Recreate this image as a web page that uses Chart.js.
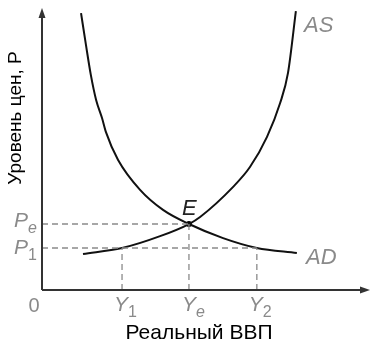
<!DOCTYPE html>
<html>
<head>
<meta charset="utf-8">
<script src="https://cdn.jsdelivr.net/npm/chart.js@4"></script>
<style>
  html, body { margin: 0; padding: 0; background: #fff; }
  #wrap { width: 378px; height: 345px; }
</style>
</head>
<body>
<div id="wrap"><canvas id="chart" width="378" height="345"></canvas></div>
<script>
const adX = [1.19, 1.34, 1.49, 1.65, 1.83, 1.95, 2.32, 2.99, 3.69, 4.48, 5.52, 6.55, 7.77];
const adY = [9.82, 8.69, 7.62, 6.74, 6.10, 5.60, 4.61, 3.55, 2.84, 2.34, 1.84, 1.49, 1.31];
const asX = [1.25, 2.44, 3.60, 4.48, 4.82, 5.82, 6.34, 6.86, 7.26, 7.50, 7.74];
const asY = [1.28, 1.49, 1.91, 2.34, 2.59, 3.65, 4.36, 5.43, 6.63, 7.70, 9.89];

const priceLevels = { Pe: 2.34, P1: 1.49 };
const outputs = { Y1: 2.44, Ye: 4.48, Y2: 6.55 };

const toPoints = (xs, ys) => xs.map((x, i) => ({ x, y: ys[i] }));

const curveStyle = {
  borderColor: '#111',
  borderWidth: 2,
  pointRadius: 0,
  showLine: true,
  fill: false,
  cubicInterpolationMode: 'monotone'
};
const dashStyle = {
  borderColor: '#8a8a8a',
  borderWidth: 1.3,
  borderDash: [6, 4],
  pointRadius: 0,
  showLine: true,
  fill: false
};

const labelsPlugin = {
  id: 'labels',
  afterDraw(chart) {
    const { ctx, scales: { x, y } } = chart;
    const x0 = x.getPixelForValue(0);
    const y0 = y.getPixelForValue(0);
    const xEnd = x.getPixelForValue(10);
    const yEnd = y.getPixelForValue(10);

    ctx.save();
    // axes with arrows
    ctx.strokeStyle = '#333';
    ctx.fillStyle = '#333';
    ctx.lineWidth = 2;
    ctx.beginPath();
    ctx.moveTo(x0, y0);
    ctx.lineTo(xEnd - 6, y0);
    ctx.moveTo(x0, y0);
    ctx.lineTo(x0, yEnd + 6);
    ctx.stroke();
    ctx.beginPath();
    ctx.moveTo(xEnd, y0);
    ctx.lineTo(xEnd - 10, y0 - 3.5);
    ctx.lineTo(xEnd - 10, y0 + 3.5);
    ctx.closePath();
    ctx.fill();
    ctx.beginPath();
    ctx.moveTo(x0, yEnd);
    ctx.lineTo(x0 - 3.5, yEnd + 10);
    ctx.lineTo(x0 + 3.5, yEnd + 10);
    ctx.closePath();
    ctx.fill();

    const sub = (main, s, px, py, size) => {
      ctx.font = 'italic ' + size + 'px "Liberation Sans"';
      ctx.textAlign = 'left';
      ctx.textBaseline = 'alphabetic';
      ctx.fillText(main, px, py);
      const w = ctx.measureText(main).width;
      ctx.font = (s === 'e' ? 'italic ' : '') + Math.round(size * 0.75) + 'px "Liberation Sans"';
      ctx.fillText(s, px + w, py + size * 0.3);
    };

    ctx.fillStyle = '#8a8a8a';
    sub('P', 'e', 14, y.getPixelForValue(priceLevels.Pe) + 3, 21);
    sub('P', '1', 14, y.getPixelForValue(priceLevels.P1) + 6, 21);
    sub('Y', '1', x.getPixelForValue(outputs.Y1) - 8, y0 + 21, 21);
    sub('Y', 'e', x.getPixelForValue(outputs.Ye) - 7, y0 + 21, 21);
    sub('Y', '2', x.getPixelForValue(outputs.Y2) - 8, y0 + 21, 21);

    ctx.font = '20px "Liberation Sans"';
    ctx.textAlign = 'center';
    ctx.fillText('0', 34, y0 + 22);

    ctx.font = 'italic 22px "Liberation Sans"';
    ctx.textAlign = 'left';
    ctx.fillText('AS', 304, 32);
    ctx.fillText('AD', 306, 264);

    ctx.fillStyle = '#222';
    ctx.fillText('E', 182, 215);

    ctx.fillStyle = '#000';
    ctx.font = '21px "Liberation Sans"';
    ctx.textAlign = 'center';
    ctx.fillText('Реальный ВВП', 199, 339);

    ctx.translate(21, 118);
    ctx.rotate(-Math.PI / 2);
    ctx.font = '19px "Liberation Sans"';
    ctx.fillText('Уровень цен, P', 0, 0);
    ctx.restore();
  }
};

new Chart(document.getElementById('chart'), {
  type: 'scatter',
  data: {
    datasets: [
      { ...dashStyle, data: [{ x: 0, y: priceLevels.Pe }, { x: outputs.Ye, y: priceLevels.Pe }] },
      { ...dashStyle, data: [{ x: 0, y: priceLevels.P1 }, { x: outputs.Y2, y: priceLevels.P1 }] },
      { ...dashStyle, data: [{ x: outputs.Y1, y: 0 }, { x: outputs.Y1, y: priceLevels.P1 }] },
      { ...dashStyle, data: [{ x: outputs.Ye, y: 0 }, { x: outputs.Ye, y: priceLevels.Pe }] },
      { ...dashStyle, data: [{ x: outputs.Y2, y: 0 }, { x: outputs.Y2, y: priceLevels.P1 }] },
      { ...curveStyle, label: 'AD', data: toPoints(adX, adY) },
      { ...curveStyle, label: 'AS', data: toPoints(asX, asY) },
      {
        label: 'E',
        data: [{ x: outputs.Ye, y: priceLevels.Pe }],
        pointRadius: 3,
        pointBackgroundColor: '#000',
        pointBorderWidth: 0
      }
    ]
  },
  options: {
    responsive: false,
    animation: false,
    layout: { padding: { left: 42, right: 8, top: 8, bottom: 55 } },
    scales: {
      x: { type: 'linear', min: 0, max: 10, display: false },
      y: { type: 'linear', min: 0, max: 10, display: false }
    },
    plugins: {
      legend: { display: false },
      tooltip: { enabled: false }
    }
  },
  plugins: [labelsPlugin]
});
</script>
</body>
</html>
